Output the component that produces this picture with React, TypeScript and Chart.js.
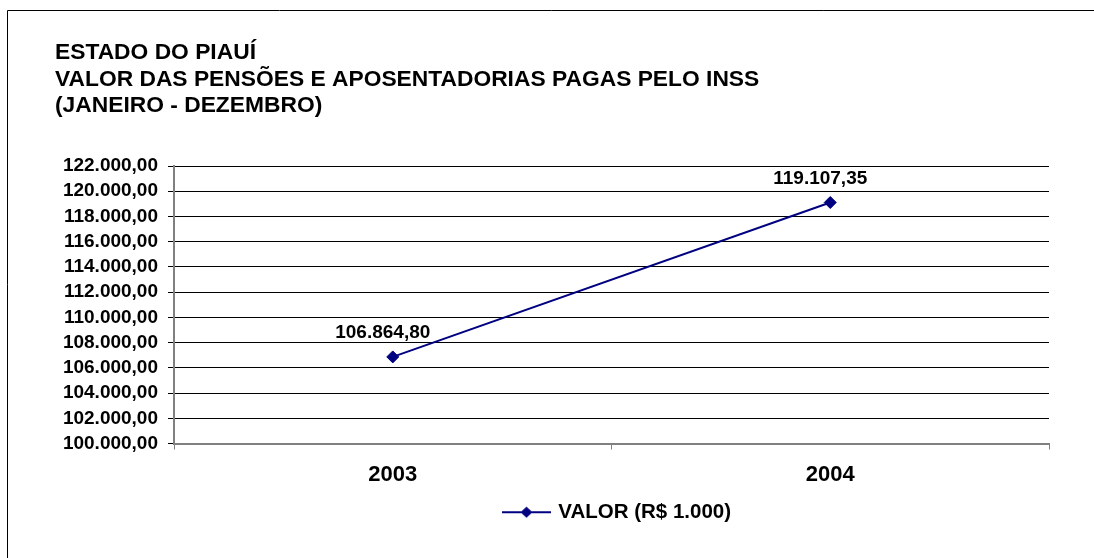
import React, { useEffect, useRef } from 'react';
import { Chart, registerables } from 'chart.js';

Chart.register(...registerables);

const categories = ['2003', '2004'];
const values = [106864.8, 119107.35];
const seriesLabel = 'VALOR (R$ 1.000)';
const titleLines = [
  'ESTADO DO PIAUÍ',
  'VALOR DAS PENSÕES E APOSENTADORIAS PAGAS PELO INSS',
  '(JANEIRO - DEZEMBRO)',
];
const yMin = 100000;
const yMax = 122000;
const yStep = 2000;

const FONT = "'Liberation Sans', Arial, Helvetica, sans-serif";
const NAVY = '#000080';

function fmt(v: number): string {
  const [i, d] = v.toFixed(2).split('.');
  return i.replace(/\B(?=(\d{3})+(?!\d))/g, '.') + ',' + d;
}

export default function App() {
  const ref = useRef<HTMLCanvasElement>(null);

  useEffect(() => {
    if (!ref.current) return;

    const legendImg = document.createElement('canvas');
    legendImg.width = 49;
    legendImg.height = 14;
    const lc = legendImg.getContext('2d')!;
    lc.strokeStyle = NAVY;
    lc.lineWidth = 2;
    lc.beginPath();
    lc.moveTo(0, 7);
    lc.lineTo(49, 7);
    lc.stroke();
    lc.fillStyle = NAVY;
    lc.beginPath();
    lc.moveTo(24.5 - 6, 7);
    lc.lineTo(24.5, 1.5);
    lc.lineTo(24.5 + 6, 7);
    lc.lineTo(24.5, 12.5);
    lc.closePath();
    lc.fill();

    const framePlugin = {
      id: 'frame',
      beforeDraw(chart: any) {
        const ctx = chart.ctx;
        ctx.save();
        ctx.fillStyle = '#fff';
        ctx.fillRect(0, 0, chart.width, chart.height);
        ctx.strokeStyle = '#000';
        ctx.lineWidth = 1;
        ctx.beginPath();
        ctx.moveTo(7.5, chart.height + 5);
        ctx.lineTo(7.5, 10.5);
        ctx.lineTo(chart.width + 5, 10.5);
        ctx.stroke();
        ctx.restore();
      },
    };

    const placePlugin = {
      id: 'place',
      afterLayout(chart: any) {
        const t = chart.titleBlock;
        if (t) {
          t.left = 55;
        }
        const lg = chart.legend;
        if (lg && lg.lineWidths) {
          const pad = lg.options.labels.padding;
          const cur = (lg.left + pad + lg.right - lg.lineWidths[0]) / 2;
          const shift = 505 - cur;
          lg.left += shift;
          lg.right += shift;
          const h = lg.bottom - lg.top;
          lg.top = 492;
          lg.bottom = lg.top + h;
        }
      },
    };

    const labelPlugin = {
      id: 'vlabels',
      afterDatasetsDraw(chart: any) {
        const ctx = chart.ctx;
        const meta = chart.getDatasetMeta(0);
        ctx.save();
        ctx.font = `bold 19px ${FONT}`;
        ctx.fillStyle = '#000';
        ctx.textAlign = 'center';
        ctx.textBaseline = 'middle';
        meta.data.forEach((pt: any, i: number) => {
          ctx.fillText(fmt(values[i]), pt.x - 10, pt.y - 24);
        });
        ctx.restore();
      },
    };

    const chart = new Chart(ref.current, {
      type: 'line',
      data: {
        labels: categories,
        datasets: [
          {
            label: seriesLabel,
            data: values,
            borderColor: NAVY,
            backgroundColor: NAVY,
            borderWidth: 2,
            pointStyle: 'rectRot',
            pointRadius: 6,
            pointBorderWidth: 1,
            pointBackgroundColor: NAVY,
            pointBorderColor: NAVY,
            tension: 0,
            fill: false,
          },
        ],
      },
      options: {
        responsive: false,
        animation: false,
        devicePixelRatio: 1,
        layout: { padding: { left: 0, right: 45, top: 0, bottom: 24 } },
        plugins: {
          title: {
            display: true,
            text: titleLines,
            align: 'start',
            color: '#000',
            font: { family: FONT, size: 22.8, weight: 'bold', lineHeight: 26.5 / 22.8 },
            padding: { top: 39.75, bottom: 46.75 },
          },
          legend: {
            display: true,
            position: 'bottom',
            labels: {
              usePointStyle: true,
              pointStyle: legendImg as any,
              pointStyleWidth: 43,
              color: '#000',
              font: { family: FONT, size: 20.5, weight: 'bold' },
              padding: 10,
            },
          },
          tooltip: { enabled: false },
        },
        scales: {
          x: {
            offset: true,
            grid: {
              offset: true,
              drawOnChartArea: false,
              drawTicks: true,
              tickLength: 6,
              color: '#808080',
              lineWidth: 1,
            },
            border: { display: true, color: '#808080', width: 2 },
            ticks: {
              color: '#000',
              font: { family: FONT, size: 22, weight: 'bold' },
              padding: 12,
              maxRotation: 0,
            },
            afterFit(s: any) {
              s.height = 50;
            },
          },
          y: {
            min: yMin,
            max: yMax,
            grid: { color: '#000', lineWidth: 1, drawTicks: true, tickLength: 6 },
            border: { display: true, color: '#808080', width: 2 },
            ticks: {
              stepSize: yStep,
              autoSkip: false,
              color: '#000',
              font: { family: FONT, size: 19, weight: 'bold' },
              padding: 10,
              callback: (v: any) => fmt(Number(v)),
            },
            afterFit(s: any) {
              s.width = 174;
            },
          },
        },
      } as any,
      plugins: [framePlugin, placePlugin, labelPlugin],
    });

    return () => chart.destroy();
  }, []);

  return (
    <div style={{ position: 'absolute', left: 0, top: 0, width: 1094, height: 558, background: '#fff' }}>
      <canvas ref={ref} width={1094} height={558} style={{ display: 'block' }} />
    </div>
  );
}
